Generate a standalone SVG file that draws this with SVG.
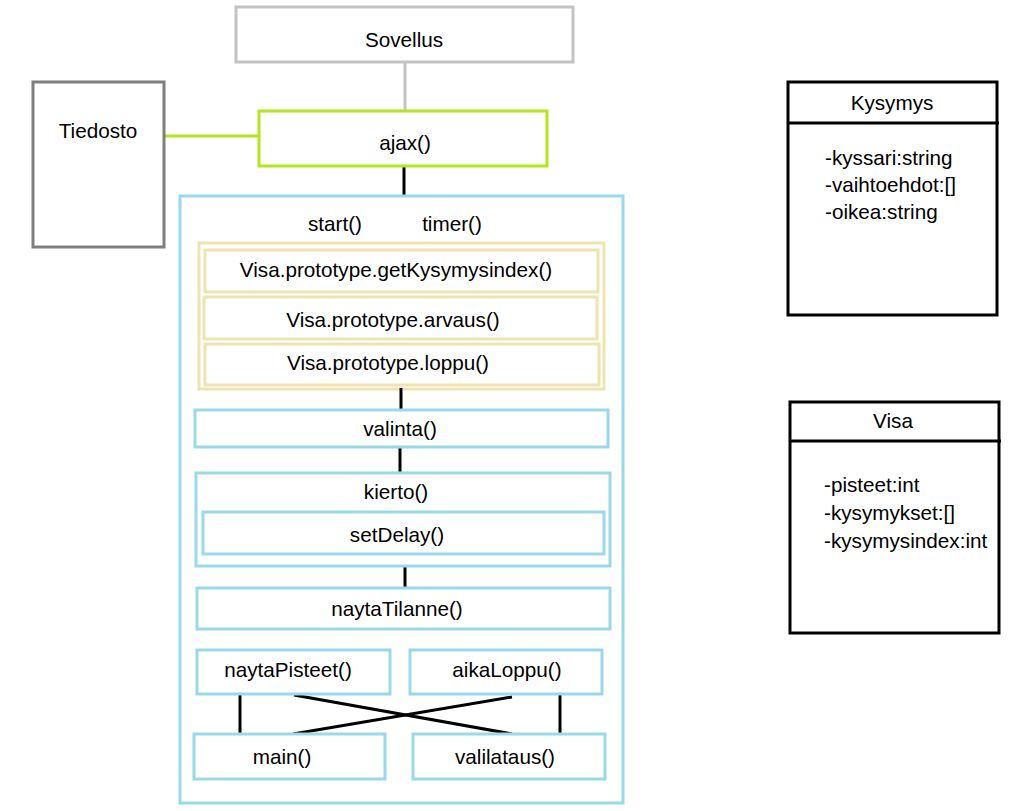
<svg xmlns="http://www.w3.org/2000/svg" width="1020" height="811" viewBox="0 0 1020 811">
<style>
text{font-family:"Liberation Sans",Arial,sans-serif;font-size:20.7px;fill:#000}
.c{text-anchor:middle}
.box{fill:#fff;stroke-width:3}
.blue{fill:#fff;stroke:#99d9ea;stroke-width:3}
.tan{fill:#fff;stroke:#efe4b0;stroke-width:3}
.blk{fill:#fff;stroke:#000;stroke-width:3}
.ln{stroke:#000;stroke-width:3;fill:none}
</style>
<rect width="1020" height="811" fill="#fff"/>
<g id="connectors">
<line x1="405" y1="62" x2="405" y2="111" stroke="#c3c3c3" stroke-width="3"/>
<line x1="164" y1="136" x2="259" y2="136" stroke="#b5e61d" stroke-width="3"/>
<line class="ln" x1="404" y1="166" x2="404" y2="197"/>
</g>
<g id="sovellus"><rect class="box" x="236" y="7" width="337" height="55" stroke="#c3c3c3"/><text class="c" x="404" y="47">Sovellus</text></g>
<g id="tiedosto"><rect class="box" x="33" y="82" width="131" height="165" stroke="#7f7f7f"/><text class="c" x="98" y="138">Tiedosto</text></g>
<g id="ajax"><rect class="box" x="259" y="111" width="288" height="55" stroke="#b5e61d"/><text class="c" x="405" y="150">ajax()</text></g>
<g id="visa-container">
<rect class="blue" x="180" y="196" width="443" height="607"/>
<text class="c" x="335" y="231">start()</text>
<text class="c" x="452" y="231">timer()</text>
</g>
<g id="prototype-group">
<rect class="tan" x="199" y="243" width="405" height="146"/>
</g>
<g id="getKysymysindex"><rect class="tan" x="205" y="250" width="393" height="42"/><text class="c" x="396" y="277">Visa.prototype.getKysymysindex()</text></g>
<g id="arvaus"><rect class="tan" x="204" y="297" width="393" height="42"/><text class="c" x="393" y="327">Visa.prototype.arvaus()</text></g>
<g id="loppu"><rect class="tan" x="205" y="344" width="394" height="41"/><text class="c" x="388" y="370">Visa.prototype.loppu()</text></g>
<g id="inner-connectors">
<line class="ln" x1="401" y1="388" x2="401" y2="410"/>
<line class="ln" x1="400" y1="447" x2="400" y2="473"/>
<line class="ln" x1="405" y1="566" x2="405" y2="588"/>
<line class="ln" x1="240" y1="692" x2="240" y2="734"/>
<line class="ln" x1="560" y1="692" x2="560" y2="734"/>
<line class="ln" x1="294" y1="695" x2="512" y2="734"/>
<line class="ln" x1="512" y1="697" x2="293" y2="734"/>
</g>
<g id="valinta"><rect class="blue" x="195" y="410" width="413" height="37"/><text class="c" x="400" y="436">valinta()</text></g>
<g id="kierto"><rect class="blue" x="196" y="473" width="414" height="93"/><text class="c" x="396" y="499">kierto()</text></g>
<g id="setDelay"><rect class="blue" x="203" y="512" width="401" height="42"/><text class="c" x="397" y="542">setDelay()</text></g>
<g id="naytaTilanne"><rect class="blue" x="197" y="588" width="413" height="41"/><text class="c" x="397" y="616">naytaTilanne()</text></g>
<g id="naytaPisteet"><rect class="blue" x="197" y="650" width="193" height="44"/><text class="c" x="288" y="677">naytaPisteet()</text></g>
<g id="aikaLoppu"><rect class="blue" x="410" y="650" width="192" height="44"/><text class="c" x="507" y="677">aikaLoppu()</text></g>
<g id="main"><rect class="blue" x="194" y="734" width="191" height="45"/><text class="c" x="282" y="764">main()</text></g>
<g id="valilataus"><rect class="blue" x="413" y="734" width="192" height="45"/><text class="c" x="505" y="764">valilataus()</text></g>
<g id="kysymys">
<rect class="blk" x="788" y="82" width="209" height="233"/>
<line class="ln" x1="788" y1="123" x2="999" y2="123"/>
<text class="c" x="892" y="110">Kysymys</text>
<text x="825" y="165">-kyssari:string</text>
<text x="825" y="192">-vaihtoehdot:[]</text>
<text x="825" y="219">-oikea:string</text>
</g>
<g id="visa">
<rect class="blk" x="790" y="402" width="209" height="231"/>
<line class="ln" x1="790" y1="441" x2="1001" y2="441"/>
<text class="c" x="893" y="428">Visa</text>
<text x="824" y="492">-pisteet:int</text>
<text x="824" y="520">-kysymykset:[]</text>
<text x="824" y="548">-kysymysindex:int</text>
</g>
</svg>
